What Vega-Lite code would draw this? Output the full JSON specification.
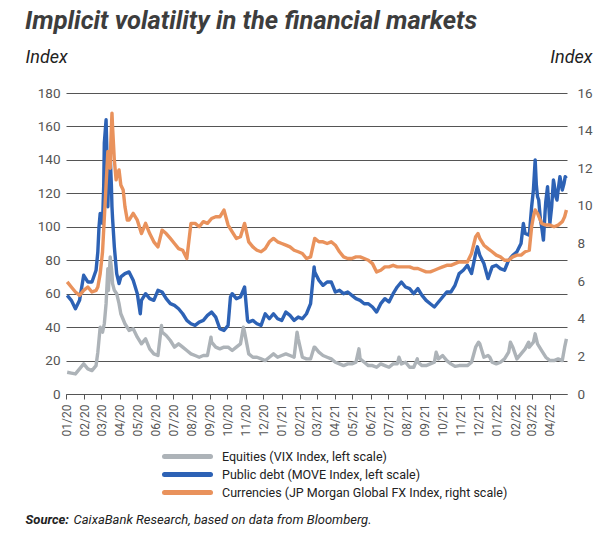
{
  "$schema": "https://vega.github.io/schema/vega-lite/v6.json",
  "width": 501,
  "height": 301,
  "autosize": {"type": "none"},
  "padding": {"left": 66, "top": 93, "right": 47, "bottom": 142},
  "background": "white",
  "config": {"view": {"stroke": null}},
  "title": {
    "text": "Implicit volatility in the financial markets",
    "anchor": "start",
    "frame": "group",
    "dx": -41,
    "offset": 14,
    "font": "Roboto",
    "fontSize": 25.5,
    "fontWeight": "bold",
    "fontStyle": "italic",
    "color": "#3d3d3d"
  },
  "datasets": {
    "left": [
      {"d":"2020-01-03","s":"VIX","v":13},{"d":"2020-01-10","s":"VIX","v":12.5},{"d":"2020-01-17","s":"VIX","v":12},{"d":"2020-01-24","s":"VIX","v":15},{"d":"2020-01-31","s":"VIX","v":18},{"d":"2020-02-07","s":"VIX","v":15},{"d":"2020-02-14","s":"VIX","v":14},{"d":"2020-02-21","s":"VIX","v":17},{"d":"2020-02-24","s":"VIX","v":25},{"d":"2020-02-28","s":"VIX","v":40},{"d":"2020-03-03","s":"VIX","v":37},{"d":"2020-03-06","s":"VIX","v":42},{"d":"2020-03-09","s":"VIX","v":54},{"d":"2020-03-12","s":"VIX","v":75},{"d":"2020-03-13","s":"VIX","v":62},{"d":"2020-03-16","s":"VIX","v":82},{"d":"2020-03-19","s":"VIX","v":72},{"d":"2020-03-20","s":"VIX","v":66},{"d":"2020-03-23","s":"VIX","v":62},{"d":"2020-03-27","s":"VIX","v":60},{"d":"2020-03-31","s":"VIX","v":54},{"d":"2020-04-03","s":"VIX","v":48},{"d":"2020-04-10","s":"VIX","v":42},{"d":"2020-04-17","s":"VIX","v":38},{"d":"2020-04-24","s":"VIX","v":39},{"d":"2020-05-01","s":"VIX","v":34},{"d":"2020-05-08","s":"VIX","v":30},{"d":"2020-05-15","s":"VIX","v":33},{"d":"2020-05-22","s":"VIX","v":27},{"d":"2020-05-29","s":"VIX","v":24},{"d":"2020-06-05","s":"VIX","v":23},{"d":"2020-06-11","s":"VIX","v":41},{"d":"2020-06-12","s":"VIX","v":37},{"d":"2020-06-19","s":"VIX","v":35},{"d":"2020-06-26","s":"VIX","v":32},{"d":"2020-07-03","s":"VIX","v":28},{"d":"2020-07-10","s":"VIX","v":30},{"d":"2020-07-17","s":"VIX","v":28},{"d":"2020-07-24","s":"VIX","v":26},{"d":"2020-07-31","s":"VIX","v":24},{"d":"2020-08-07","s":"VIX","v":23},{"d":"2020-08-14","s":"VIX","v":22},{"d":"2020-08-21","s":"VIX","v":23},{"d":"2020-08-28","s":"VIX","v":23},{"d":"2020-09-03","s":"VIX","v":34},{"d":"2020-09-04","s":"VIX","v":31},{"d":"2020-09-11","s":"VIX","v":28},{"d":"2020-09-18","s":"VIX","v":27},{"d":"2020-09-25","s":"VIX","v":28},{"d":"2020-10-02","s":"VIX","v":28},{"d":"2020-10-09","s":"VIX","v":26},{"d":"2020-10-16","s":"VIX","v":28},{"d":"2020-10-23","s":"VIX","v":30},{"d":"2020-10-28","s":"VIX","v":40},{"d":"2020-10-30","s":"VIX","v":37},{"d":"2020-11-06","s":"VIX","v":24},{"d":"2020-11-13","s":"VIX","v":22},{"d":"2020-11-20","s":"VIX","v":22},{"d":"2020-11-27","s":"VIX","v":21},{"d":"2020-12-04","s":"VIX","v":20},{"d":"2020-12-11","s":"VIX","v":22},{"d":"2020-12-18","s":"VIX","v":24},{"d":"2020-12-25","s":"VIX","v":22},{"d":"2021-01-01","s":"VIX","v":23},{"d":"2021-01-08","s":"VIX","v":24},{"d":"2021-01-15","s":"VIX","v":23},{"d":"2021-01-22","s":"VIX","v":22},{"d":"2021-01-27","s":"VIX","v":37},{"d":"2021-01-29","s":"VIX","v":33},{"d":"2021-02-05","s":"VIX","v":22},{"d":"2021-02-12","s":"VIX","v":21},{"d":"2021-02-19","s":"VIX","v":21},{"d":"2021-02-25","s":"VIX","v":28},{"d":"2021-02-26","s":"VIX","v":28},{"d":"2021-03-05","s":"VIX","v":25},{"d":"2021-03-12","s":"VIX","v":23},{"d":"2021-03-19","s":"VIX","v":22},{"d":"2021-03-26","s":"VIX","v":21},{"d":"2021-04-02","s":"VIX","v":19},{"d":"2021-04-09","s":"VIX","v":18},{"d":"2021-04-16","s":"VIX","v":17},{"d":"2021-04-23","s":"VIX","v":18},{"d":"2021-04-30","s":"VIX","v":18},{"d":"2021-05-07","s":"VIX","v":19},{"d":"2021-05-12","s":"VIX","v":27},{"d":"2021-05-14","s":"VIX","v":21},{"d":"2021-05-21","s":"VIX","v":19},{"d":"2021-05-28","s":"VIX","v":17},{"d":"2021-06-04","s":"VIX","v":17},{"d":"2021-06-11","s":"VIX","v":16},{"d":"2021-06-18","s":"VIX","v":18},{"d":"2021-06-25","s":"VIX","v":17},{"d":"2021-07-02","s":"VIX","v":16},{"d":"2021-07-09","s":"VIX","v":18},{"d":"2021-07-16","s":"VIX","v":18},{"d":"2021-07-19","s":"VIX","v":22},{"d":"2021-07-23","s":"VIX","v":18},{"d":"2021-07-30","s":"VIX","v":19},{"d":"2021-08-06","s":"VIX","v":16},{"d":"2021-08-13","s":"VIX","v":16},{"d":"2021-08-19","s":"VIX","v":21},{"d":"2021-08-20","s":"VIX","v":19},{"d":"2021-08-27","s":"VIX","v":17},{"d":"2021-09-03","s":"VIX","v":17},{"d":"2021-09-10","s":"VIX","v":18},{"d":"2021-09-17","s":"VIX","v":19},{"d":"2021-09-20","s":"VIX","v":25},{"d":"2021-09-24","s":"VIX","v":21},{"d":"2021-10-01","s":"VIX","v":23},{"d":"2021-10-08","s":"VIX","v":20},{"d":"2021-10-15","s":"VIX","v":18},{"d":"2021-10-22","s":"VIX","v":16.5},{"d":"2021-10-29","s":"VIX","v":17},{"d":"2021-11-05","s":"VIX","v":17},{"d":"2021-11-12","s":"VIX","v":17},{"d":"2021-11-19","s":"VIX","v":19},{"d":"2021-11-26","s":"VIX","v":28},{"d":"2021-12-01","s":"VIX","v":31},{"d":"2021-12-03","s":"VIX","v":30},{"d":"2021-12-10","s":"VIX","v":22},{"d":"2021-12-17","s":"VIX","v":23},{"d":"2021-12-20","s":"VIX","v":22},{"d":"2021-12-24","s":"VIX","v":19},{"d":"2021-12-31","s":"VIX","v":18},{"d":"2022-01-07","s":"VIX","v":19},{"d":"2022-01-14","s":"VIX","v":21},{"d":"2022-01-21","s":"VIX","v":25},{"d":"2022-01-24","s":"VIX","v":31},{"d":"2022-01-28","s":"VIX","v":28},{"d":"2022-02-04","s":"VIX","v":21},{"d":"2022-02-11","s":"VIX","v":24},{"d":"2022-02-18","s":"VIX","v":27},{"d":"2022-02-24","s":"VIX","v":31},{"d":"2022-02-25","s":"VIX","v":28},{"d":"2022-03-04","s":"VIX","v":31},{"d":"2022-03-07","s":"VIX","v":36},{"d":"2022-03-11","s":"VIX","v":30},{"d":"2022-03-18","s":"VIX","v":26},{"d":"2022-03-25","s":"VIX","v":22},{"d":"2022-04-01","s":"VIX","v":20},{"d":"2022-04-08","s":"VIX","v":20},{"d":"2022-04-15","s":"VIX","v":21},{"d":"2022-04-22","s":"VIX","v":20},{"d":"2022-04-26","s":"VIX","v":28},{"d":"2022-04-29","s":"VIX","v":33},
      {"d":"2020-01-03","s":"MOVE","v":59},{"d":"2020-01-10","s":"MOVE","v":56},{"d":"2020-01-17","s":"MOVE","v":51},{"d":"2020-01-24","s":"MOVE","v":56},{"d":"2020-01-31","s":"MOVE","v":71},{"d":"2020-02-07","s":"MOVE","v":67},{"d":"2020-02-14","s":"MOVE","v":67},{"d":"2020-02-21","s":"MOVE","v":74},{"d":"2020-02-24","s":"MOVE","v":85},{"d":"2020-02-26","s":"MOVE","v":100},{"d":"2020-02-28","s":"MOVE","v":108},{"d":"2020-03-03","s":"MOVE","v":102},{"d":"2020-03-05","s":"MOVE","v":125},{"d":"2020-03-06","s":"MOVE","v":150},{"d":"2020-03-09","s":"MOVE","v":164},{"d":"2020-03-10","s":"MOVE","v":150},{"d":"2020-03-12","s":"MOVE","v":112},{"d":"2020-03-13","s":"MOVE","v":125},{"d":"2020-03-16","s":"MOVE","v":142},{"d":"2020-03-18","s":"MOVE","v":125},{"d":"2020-03-19","s":"MOVE","v":112},{"d":"2020-03-20","s":"MOVE","v":105},{"d":"2020-03-23","s":"MOVE","v":88},{"d":"2020-03-27","s":"MOVE","v":72},{"d":"2020-03-31","s":"MOVE","v":66},{"d":"2020-04-03","s":"MOVE","v":70},{"d":"2020-04-10","s":"MOVE","v":72},{"d":"2020-04-17","s":"MOVE","v":73},{"d":"2020-04-24","s":"MOVE","v":68},{"d":"2020-05-01","s":"MOVE","v":60},{"d":"2020-05-06","s":"MOVE","v":48},{"d":"2020-05-08","s":"MOVE","v":56},{"d":"2020-05-15","s":"MOVE","v":60},{"d":"2020-05-22","s":"MOVE","v":57},{"d":"2020-05-29","s":"MOVE","v":56},{"d":"2020-06-05","s":"MOVE","v":62},{"d":"2020-06-12","s":"MOVE","v":61},{"d":"2020-06-19","s":"MOVE","v":57},{"d":"2020-06-26","s":"MOVE","v":54},{"d":"2020-07-03","s":"MOVE","v":53},{"d":"2020-07-10","s":"MOVE","v":51},{"d":"2020-07-17","s":"MOVE","v":48},{"d":"2020-07-24","s":"MOVE","v":44},{"d":"2020-07-31","s":"MOVE","v":42},{"d":"2020-08-07","s":"MOVE","v":41},{"d":"2020-08-14","s":"MOVE","v":43},{"d":"2020-08-21","s":"MOVE","v":44},{"d":"2020-08-28","s":"MOVE","v":47},{"d":"2020-09-04","s":"MOVE","v":49},{"d":"2020-09-11","s":"MOVE","v":46},{"d":"2020-09-18","s":"MOVE","v":39},{"d":"2020-09-25","s":"MOVE","v":38},{"d":"2020-10-02","s":"MOVE","v":41},{"d":"2020-10-06","s":"MOVE","v":58},{"d":"2020-10-09","s":"MOVE","v":60},{"d":"2020-10-16","s":"MOVE","v":57},{"d":"2020-10-23","s":"MOVE","v":58},{"d":"2020-10-30","s":"MOVE","v":64},{"d":"2020-11-04","s":"MOVE","v":44},{"d":"2020-11-06","s":"MOVE","v":43},{"d":"2020-11-13","s":"MOVE","v":44},{"d":"2020-11-20","s":"MOVE","v":42},{"d":"2020-11-27","s":"MOVE","v":41},{"d":"2020-12-04","s":"MOVE","v":48},{"d":"2020-12-11","s":"MOVE","v":45},{"d":"2020-12-18","s":"MOVE","v":48},{"d":"2020-12-25","s":"MOVE","v":45},{"d":"2021-01-01","s":"MOVE","v":44},{"d":"2021-01-08","s":"MOVE","v":49},{"d":"2021-01-15","s":"MOVE","v":47},{"d":"2021-01-22","s":"MOVE","v":44},{"d":"2021-01-29","s":"MOVE","v":46},{"d":"2021-02-05","s":"MOVE","v":45},{"d":"2021-02-12","s":"MOVE","v":48},{"d":"2021-02-19","s":"MOVE","v":54},{"d":"2021-02-25","s":"MOVE","v":76},{"d":"2021-02-26","s":"MOVE","v":73},{"d":"2021-03-05","s":"MOVE","v":68},{"d":"2021-03-12","s":"MOVE","v":65},{"d":"2021-03-19","s":"MOVE","v":67},{"d":"2021-03-26","s":"MOVE","v":67},{"d":"2021-04-02","s":"MOVE","v":61},{"d":"2021-04-09","s":"MOVE","v":62},{"d":"2021-04-16","s":"MOVE","v":60},{"d":"2021-04-23","s":"MOVE","v":61},{"d":"2021-04-30","s":"MOVE","v":59},{"d":"2021-05-07","s":"MOVE","v":57},{"d":"2021-05-14","s":"MOVE","v":56},{"d":"2021-05-21","s":"MOVE","v":54},{"d":"2021-05-28","s":"MOVE","v":54},{"d":"2021-06-04","s":"MOVE","v":52},{"d":"2021-06-11","s":"MOVE","v":49},{"d":"2021-06-18","s":"MOVE","v":54},{"d":"2021-06-25","s":"MOVE","v":57},{"d":"2021-07-02","s":"MOVE","v":55},{"d":"2021-07-09","s":"MOVE","v":60},{"d":"2021-07-16","s":"MOVE","v":64},{"d":"2021-07-23","s":"MOVE","v":67},{"d":"2021-07-30","s":"MOVE","v":64},{"d":"2021-08-06","s":"MOVE","v":63},{"d":"2021-08-13","s":"MOVE","v":60},{"d":"2021-08-20","s":"MOVE","v":63},{"d":"2021-08-27","s":"MOVE","v":59},{"d":"2021-09-03","s":"MOVE","v":56},{"d":"2021-09-10","s":"MOVE","v":54},{"d":"2021-09-17","s":"MOVE","v":52},{"d":"2021-09-24","s":"MOVE","v":55},{"d":"2021-10-01","s":"MOVE","v":58},{"d":"2021-10-08","s":"MOVE","v":61},{"d":"2021-10-15","s":"MOVE","v":61},{"d":"2021-10-22","s":"MOVE","v":65},{"d":"2021-10-29","s":"MOVE","v":72},{"d":"2021-11-05","s":"MOVE","v":74},{"d":"2021-11-12","s":"MOVE","v":77},{"d":"2021-11-19","s":"MOVE","v":72},{"d":"2021-11-26","s":"MOVE","v":84},{"d":"2021-11-29","s":"MOVE","v":88},{"d":"2021-12-03","s":"MOVE","v":83},{"d":"2021-12-10","s":"MOVE","v":78},{"d":"2021-12-17","s":"MOVE","v":69},{"d":"2021-12-24","s":"MOVE","v":76},{"d":"2021-12-31","s":"MOVE","v":77},{"d":"2022-01-07","s":"MOVE","v":75},{"d":"2022-01-14","s":"MOVE","v":74},{"d":"2022-01-21","s":"MOVE","v":80},{"d":"2022-01-28","s":"MOVE","v":83},{"d":"2022-02-04","s":"MOVE","v":85},{"d":"2022-02-11","s":"MOVE","v":90},{"d":"2022-02-15","s":"MOVE","v":102},{"d":"2022-02-18","s":"MOVE","v":96},{"d":"2022-02-25","s":"MOVE","v":95},{"d":"2022-03-01","s":"MOVE","v":112},{"d":"2022-03-04","s":"MOVE","v":122},{"d":"2022-03-07","s":"MOVE","v":140},{"d":"2022-03-09","s":"MOVE","v":125},{"d":"2022-03-11","s":"MOVE","v":118},{"d":"2022-03-13","s":"MOVE","v":116},{"d":"2022-03-16","s":"MOVE","v":104},{"d":"2022-03-18","s":"MOVE","v":100},{"d":"2022-03-21","s":"MOVE","v":92},{"d":"2022-03-24","s":"MOVE","v":110},{"d":"2022-03-25","s":"MOVE","v":115},{"d":"2022-03-28","s":"MOVE","v":124},{"d":"2022-04-01","s":"MOVE","v":102},{"d":"2022-04-04","s":"MOVE","v":112},{"d":"2022-04-07","s":"MOVE","v":128},{"d":"2022-04-08","s":"MOVE","v":126},{"d":"2022-04-11","s":"MOVE","v":118},{"d":"2022-04-13","s":"MOVE","v":116},{"d":"2022-04-15","s":"MOVE","v":122},{"d":"2022-04-18","s":"MOVE","v":130},{"d":"2022-04-22","s":"MOVE","v":122},{"d":"2022-04-25","s":"MOVE","v":126},{"d":"2022-04-27","s":"MOVE","v":130},{"d":"2022-04-29","s":"MOVE","v":129}
    ],
    "fx": [
      {"d":"2020-01-03","v":5.96},{"d":"2020-01-10","v":5.69},{"d":"2020-01-17","v":5.42},{"d":"2020-01-24","v":5.24},{"d":"2020-01-31","v":5.51},{"d":"2020-02-07","v":5.69},{"d":"2020-02-14","v":5.42},{"d":"2020-02-21","v":5.51},{"d":"2020-02-24","v":5.69},{"d":"2020-02-28","v":6.4},{"d":"2020-03-03","v":7.56},{"d":"2020-03-06","v":9.33},{"d":"2020-03-09","v":11.11},{"d":"2020-03-12","v":12.89},{"d":"2020-03-13","v":12.62},{"d":"2020-03-16","v":12.0},{"d":"2020-03-17","v":13.33},{"d":"2020-03-19","v":14.93},{"d":"2020-03-20","v":14.22},{"d":"2020-03-23","v":12.44},{"d":"2020-03-26","v":11.38},{"d":"2020-03-27","v":11.56},{"d":"2020-03-31","v":11.91},{"d":"2020-04-03","v":11.11},{"d":"2020-04-07","v":10.84},{"d":"2020-04-10","v":9.96},{"d":"2020-04-14","v":9.24},{"d":"2020-04-17","v":9.24},{"d":"2020-04-24","v":9.6},{"d":"2020-05-01","v":9.24},{"d":"2020-05-08","v":8.53},{"d":"2020-05-15","v":9.07},{"d":"2020-05-22","v":8.53},{"d":"2020-05-29","v":8.09},{"d":"2020-06-05","v":7.82},{"d":"2020-06-12","v":8.71},{"d":"2020-06-19","v":8.53},{"d":"2020-06-26","v":8.27},{"d":"2020-07-03","v":8.0},{"d":"2020-07-10","v":7.73},{"d":"2020-07-17","v":7.64},{"d":"2020-07-24","v":7.2},{"d":"2020-07-31","v":9.07},{"d":"2020-08-07","v":9.07},{"d":"2020-08-14","v":8.89},{"d":"2020-08-21","v":9.16},{"d":"2020-08-28","v":9.07},{"d":"2020-09-04","v":9.33},{"d":"2020-09-11","v":9.42},{"d":"2020-09-18","v":9.42},{"d":"2020-09-25","v":9.78},{"d":"2020-10-02","v":8.98},{"d":"2020-10-09","v":8.62},{"d":"2020-10-16","v":8.27},{"d":"2020-10-23","v":8.36},{"d":"2020-10-30","v":9.07},{"d":"2020-11-06","v":8.09},{"d":"2020-11-13","v":7.82},{"d":"2020-11-20","v":7.64},{"d":"2020-11-27","v":7.56},{"d":"2020-12-04","v":7.73},{"d":"2020-12-11","v":8.09},{"d":"2020-12-18","v":8.27},{"d":"2020-12-25","v":8.09},{"d":"2021-01-01","v":8.0},{"d":"2021-01-08","v":7.91},{"d":"2021-01-15","v":7.82},{"d":"2021-01-22","v":7.64},{"d":"2021-01-29","v":7.56},{"d":"2021-02-05","v":7.47},{"d":"2021-02-12","v":7.2},{"d":"2021-02-19","v":7.29},{"d":"2021-02-26","v":8.27},{"d":"2021-03-05","v":8.09},{"d":"2021-03-12","v":8.09},{"d":"2021-03-19","v":8.0},{"d":"2021-03-26","v":8.09},{"d":"2021-04-02","v":7.91},{"d":"2021-04-09","v":7.56},{"d":"2021-04-16","v":7.29},{"d":"2021-04-23","v":7.2},{"d":"2021-04-30","v":7.2},{"d":"2021-05-07","v":7.29},{"d":"2021-05-14","v":7.29},{"d":"2021-05-21","v":7.2},{"d":"2021-05-28","v":7.11},{"d":"2021-06-04","v":6.93},{"d":"2021-06-11","v":6.49},{"d":"2021-06-18","v":6.58},{"d":"2021-06-25","v":6.76},{"d":"2021-07-02","v":6.76},{"d":"2021-07-09","v":6.84},{"d":"2021-07-16","v":6.76},{"d":"2021-07-23","v":6.76},{"d":"2021-07-30","v":6.76},{"d":"2021-08-06","v":6.76},{"d":"2021-08-13","v":6.67},{"d":"2021-08-20","v":6.67},{"d":"2021-08-27","v":6.58},{"d":"2021-09-03","v":6.49},{"d":"2021-09-10","v":6.49},{"d":"2021-09-17","v":6.58},{"d":"2021-09-24","v":6.67},{"d":"2021-10-01","v":6.76},{"d":"2021-10-08","v":6.84},{"d":"2021-10-15","v":6.84},{"d":"2021-10-22","v":6.93},{"d":"2021-10-29","v":7.02},{"d":"2021-11-05","v":7.02},{"d":"2021-11-12","v":7.02},{"d":"2021-11-19","v":7.47},{"d":"2021-11-26","v":8.36},{"d":"2021-11-30","v":8.53},{"d":"2021-12-03","v":8.27},{"d":"2021-12-10","v":7.91},{"d":"2021-12-17","v":7.73},{"d":"2021-12-24","v":7.56},{"d":"2021-12-31","v":7.38},{"d":"2022-01-07","v":7.29},{"d":"2022-01-14","v":7.11},{"d":"2022-01-21","v":7.11},{"d":"2022-01-28","v":7.29},{"d":"2022-02-04","v":7.38},{"d":"2022-02-11","v":7.38},{"d":"2022-02-18","v":7.56},{"d":"2022-02-25","v":7.64},{"d":"2022-03-01","v":8.89},{"d":"2022-03-04","v":9.42},{"d":"2022-03-07","v":9.78},{"d":"2022-03-11","v":9.6},{"d":"2022-03-18","v":9.07},{"d":"2022-03-25","v":8.98},{"d":"2022-04-01","v":8.98},{"d":"2022-04-08","v":8.89},{"d":"2022-04-15","v":8.98},{"d":"2022-04-22","v":9.16},{"d":"2022-04-26","v":9.42},{"d":"2022-04-29","v":9.78}
    ]
  },
  "layer": [
    {
      "data": {"name": "left"},
      "mark": {"type": "line", "strokeWidth": 3.4, "strokeJoin": "round"},
      "encoding": {
        "x": {
          "field": "d", "type": "temporal",
          "scale": {"type": "utc", "domain": ["2020-01-01", "2022-04-30"]},
          "axis": {
            "format": "%m/%y",
            "tickCount": {"interval": "month", "step": 1},
            "labelAngle": 270,
            "labelAlign": "right",
            "labelBaseline": "middle",
            "labelFont": "Roboto",
            "labelFontSize": 12,
            "labelColor": "#555555",
            "labelPadding": 5,
            "labelOverlap": false,
            "labelFlush": false,
            "tickSize": 5,
            "tickColor": "#555555",
            "domainColor": "#555555",
            "grid": false,
            "title": "Source:",
            "titleFont": "Roboto",
            "titleFontSize": 13,
            "titleFontStyle": "italic",
            "titleFontWeight": "bold",
            "titleColor": "#222222",
            "titleAnchor": "start",
            "titleAlign": "left",
            "titleBaseline": "alphabetic",
            "titleX": -41,
            "titleY": 129
          }
        },
        "y": {
          "field": "v", "type": "quantitative",
          "scale": {"domain": [0, 180], "nice": false},
          "axis": {
            "values": [0, 20, 40, 60, 80, 100, 120, 140, 160, 180],
            "grid": true,
            "gridColor": "#555555",
            "gridWidth": 1,
            "domain": false,
            "ticks": false,
            "labelFont": "Roboto",
            "labelFontSize": 13.5,
            "labelColor": "#555555",
            "labelPadding": 6,
            "title": "Index",
            "titleAngle": 0,
            "titleAlign": "left",
            "titleBaseline": "alphabetic",
            "titleX": -41,
            "titleY": -31,
            "titleFont": "Roboto",
            "titleFontSize": 18,
            "titleFontStyle": "italic",
            "titleFontWeight": "normal",
            "titleColor": "#222222"
          }
        },
        "color": {
          "field": "s", "type": "nominal",
          "scale": {"domain": ["VIX", "MOVE", "FX"], "range": ["#adb3b8", "#2d62b5", "#e9925c"]},
          "legend": {
            "orient": "none",
            "legendX": 114,
            "legendY": 356,
            "direction": "vertical",
            "title": null,
            "symbolType": "M-4.6,0H4.6",
            "symbolSize": 100,
            "symbolStrokeWidth": 5,
            "labelFont": "Roboto",
            "labelFontSize": 12.5,
            "labelColor": "#222222",
            "labelOffset": 27,
            "labelLimit": 500,
            "rowPadding": -5,
            "encode": {"symbols": {"update": {"strokeCap": {"value": "round"}}}},
            "labelExpr": "datum.label == 'VIX' ? 'Equities (VIX Index, left scale)' : datum.label == 'MOVE' ? 'Public debt (MOVE Index, left scale)' : 'Currencies (JP Morgan Global FX Index, right scale)'"
          }
        }
      }
    },
    {
      "data": {"name": "fx"},
      "mark": {"type": "line", "strokeWidth": 3.4, "strokeJoin": "round"},
      "encoding": {
        "x": {
          "field": "d", "type": "temporal",
          "axis": {
            "orient": "bottom",
            "labels": false,
            "ticks": false,
            "domain": false,
            "grid": false,
            "title": "CaixaBank Research, based on data from Bloomberg.",
            "titleFont": "Roboto",
            "titleFontSize": 13,
            "titleFontStyle": "italic",
            "titleFontWeight": "normal",
            "titleColor": "#222222",
            "titleAnchor": "start",
            "titleAlign": "left",
            "titleBaseline": "alphabetic",
            "titleX": 7,
            "titleY": 129
          }
        },
        "y": {
          "field": "v", "type": "quantitative",
          "scale": {"domain": [0, 16], "nice": false},
          "axis": {
            "orient": "right",
            "values": [0, 2, 4, 6, 8, 10, 12, 14, 16],
            "grid": false,
            "domain": false,
            "ticks": false,
            "labelFont": "Roboto",
            "labelFontSize": 13.5,
            "labelColor": "#555555",
            "labelPadding": 10,
            "title": "Index",
            "titleAngle": 0,
            "titleAlign": "right",
            "titleBaseline": "alphabetic",
            "titleX": 25,
            "titleY": -31,
            "titleFont": "Roboto",
            "titleFontSize": 18,
            "titleFontStyle": "italic",
            "titleFontWeight": "normal",
            "titleColor": "#222222"
          }
        },
        "color": {"datum": "FX"}
      }
    }
  ],
  "resolve": {"scale": {"y": "independent"}, "axis": {"x": "independent"}}
}
